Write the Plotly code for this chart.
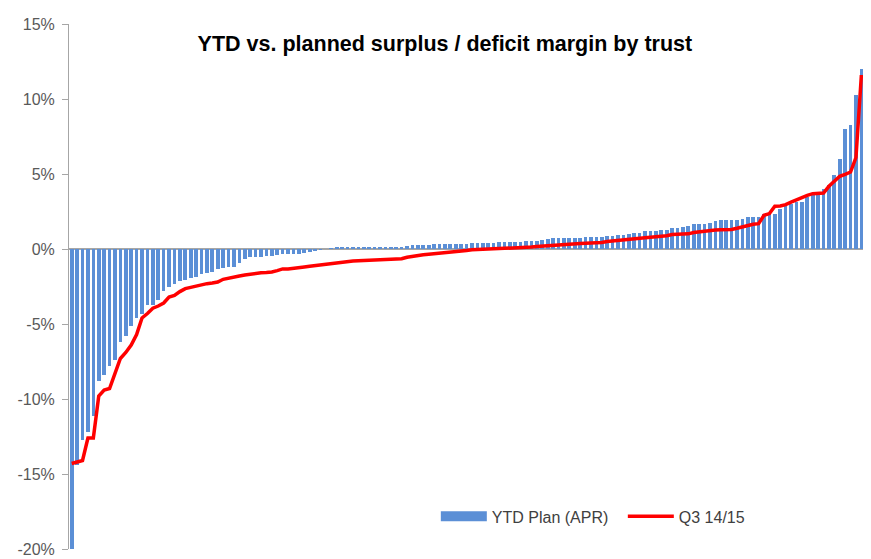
"""Surplus / deficit margin by trust: YTD plan bars vs Q3 line."""
import plotly.graph_objects as go

# one value per trust (sorted by plan), in percent
trust_rank = list(range(1, 148))

ytd_plan_apr = [
    -20.0, -14.4, -12.7, -12.2, -11.1, -8.8, -8.4, -7.8, -7.4, -6.2,
    -5.8, -5.1, -4.6, -4.3, -3.7, -3.7, -3.4, -2.8, -2.5, -2.3,
    -2.13, -2.07, -1.9, -1.84, -1.69, -1.62, -1.56, -1.31, -1.24, -1.22,
    -1.18, -0.96, -0.67, -0.56, -0.56, -0.51, -0.44, -0.44, -0.4, -0.36,
    -0.36, -0.34, -0.3, -0.25, -0.2, -0.13, -0.02, 0.0, 0.02, 0.09,
    0.09, 0.09, 0.09, 0.09, 0.09, 0.09, 0.09, 0.16, 0.16, 0.16,
    0.16, 0.16, 0.18, 0.25, 0.25, 0.25, 0.25, 0.33, 0.33, 0.33,
    0.33, 0.33, 0.33, 0.33, 0.42, 0.42, 0.42, 0.42, 0.42, 0.47,
    0.47, 0.47, 0.47, 0.49, 0.53, 0.53, 0.53, 0.6, 0.67, 0.73,
    0.73, 0.73, 0.73, 0.73, 0.73, 0.82, 0.82, 0.82, 0.82, 0.89,
    0.89, 0.96, 0.96, 1.0, 1.09, 1.09, 1.18, 1.18, 1.18, 1.25,
    1.25, 1.4, 1.4, 1.47, 1.53, 1.69, 1.69, 1.69, 1.76, 1.85,
    1.91, 1.91, 1.91, 1.91, 1.98, 2.14, 2.14, 2.14, 2.31, 2.31,
    2.36, 2.65, 2.91, 2.98, 3.13, 3.13, 3.47, 3.58, 3.62, 4.02,
    4.24, 4.91, 5.98, 8.02, 8.24, 10.24, 12.02,
]

q3_1415 = [
    -14.3, -14.2, -14.1, -12.6, -12.6, -9.8, -9.4, -9.3, -8.3, -7.3,
    -6.9, -6.4, -5.7, -4.6, -4.3, -3.95, -3.8, -3.6, -3.2, -3.1,
    -2.84, -2.64, -2.56, -2.47, -2.36, -2.31, -2.27, -2.2, -2.02, -1.93,
    -1.87, -1.8, -1.73, -1.67, -1.62, -1.58, -1.56, -1.53, -1.44, -1.33,
    -1.33, -1.3, -1.27, -1.2, -1.15, -1.1, -1.05, -1.0, -0.96, -0.9,
    -0.85, -0.82, -0.8, -0.78, -0.76, -0.75, -0.74, -0.72, -0.71, -0.7,
    -0.68, -0.65, -0.55, -0.48, -0.43, -0.39, -0.35, -0.32, -0.29, -0.27,
    -0.23, -0.2, -0.16, -0.1, -0.05, -0.02, 0.0, 0.0, 0.01, 0.02,
    0.03, 0.04, 0.05, 0.07, 0.1, 0.13, 0.17, 0.2, 0.23, 0.26,
    0.28, 0.3, 0.33, 0.35, 0.37, 0.38, 0.39, 0.4, 0.43, 0.5,
    0.54, 0.57, 0.6, 0.68, 0.7, 0.73, 0.75, 0.78, 0.8, 0.83,
    0.88, 0.96, 0.97, 0.98, 1.01, 1.1, 1.15, 1.2, 1.25, 1.27,
    1.29, 1.29, 1.3, 1.38, 1.48, 1.55, 1.65, 1.69, 2.25, 2.36,
    2.85, 2.87, 2.96, 3.13, 3.29, 3.47, 3.58, 3.69, 3.69, 3.73,
    4.18, 4.55, 4.85, 4.98, 5.13, 6.1, 11.6,
]

y_ticks = [-20, -15, -10, -5, 0, 5, 10, 15]
y_tick_labels = ['-20%', '-15%', '-10%', '-5%', '0%', '5%', '10%', '15%']

BLUE = '#5B8FD6'
RED = '#FF0000'
GREY = '#A6A6A6'
FONT = 'Liberation Sans'

fig = go.Figure()
fig.add_trace(go.Bar(x=trust_rank, y=ytd_plan_apr, name='YTD Plan (APR)',
                     marker_color=BLUE, marker_line_width=0, width=0.68,
                     showlegend=False))
# legend-only stand-in so the swatch is a wide flat block like the original
fig.add_trace(go.Scatter(x=[None], y=[None], mode='lines', name='YTD Plan (APR)',
                         line=dict(color=BLUE, width=10)))
fig.add_trace(go.Scatter(x=trust_rank, y=q3_1415, mode='lines', name='Q3 14/15',
                         line=dict(color=RED, width=3.5)))

fig.update_xaxes(range=[0.5, 147.3], showticklabels=False, ticks='',
                 showgrid=False, zeroline=False, showline=False)
fig.update_yaxes(range=[-20, 15], tickvals=y_ticks, ticktext=y_tick_labels,
                 ticks='outside', ticklen=6, tickcolor=GREY,
                 showline=True, linecolor=GREY, linewidth=1,
                 showgrid=False, zeroline=True, zerolinecolor=GREY, zerolinewidth=1.5,
                 tickfont=dict(family=FONT, size=16, color='#595959'),
                 ticklabelstandoff=4)

# the page body adds an 8px offset, so the figure is shrunk to fit the window
fig.update_layout(
    width=855, height=551,
    margin=dict(l=61, r=0, t=16, b=10),
    paper_bgcolor='white', plot_bgcolor='white',
    bargap=0,
    title=dict(text='<b>YTD vs. planned surplus / deficit margin by trust</b>',
               x=0.511, xanchor='center', y=0.9365, yanchor='middle',
               font=dict(family=FONT, size=21.5, color='black')),
    legend=dict(orientation='h', x=0.462, xanchor='left', y=0.062, yanchor='middle',
                itemwidth=46, entrywidth=126, font=dict(family=FONT, size=16, color='#404040'),
                bgcolor='rgba(0,0,0,0)', traceorder='normal'),
)

fig.write_html("out.html")
